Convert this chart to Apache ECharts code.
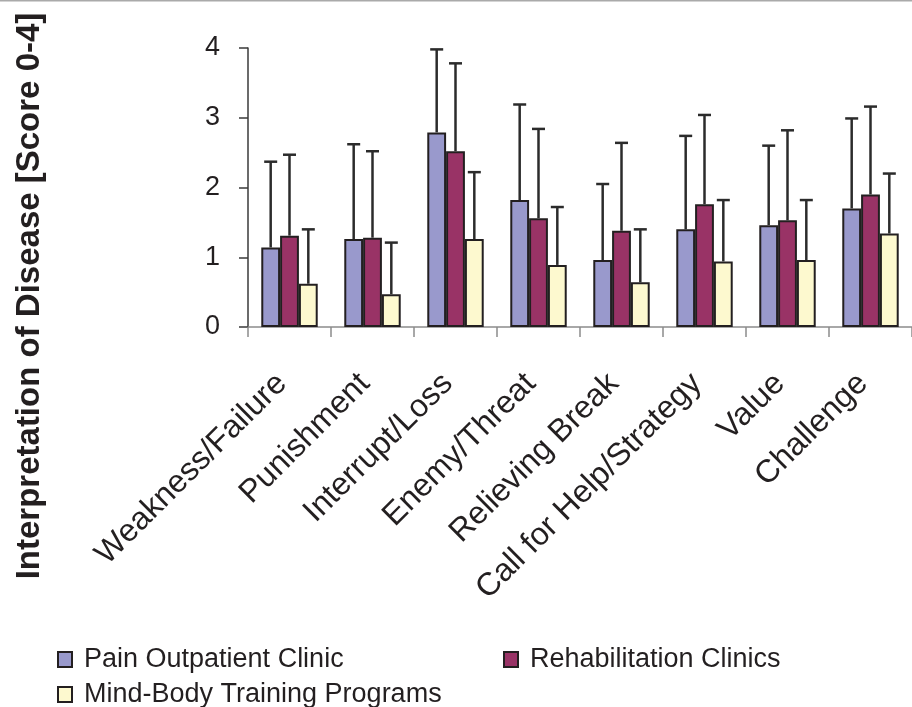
<!DOCTYPE html>
<html>
<head>
<meta charset="utf-8">
<script src="https://cdn.jsdelivr.net/npm/echarts@6/dist/echarts.min.js"></script>
<style>html,body{margin:0;padding:0;background:#fff}#c{width:912px;height:707px}</style>
</head>
<body>
<div id="c"></div>
<script>
const categories = ['Weakness/Failure','Punishment','Interrupt/Loss','Enemy/Threat','Relieving Break','Call for Help/Strategy','Value','Challenge'];
const seriesNames = ['Pain Outpatient Clinic','Rehabilitation Clinics','Mind-Body Training Programs'];
const painMean  = [1.14,1.26,2.79,1.82,0.96,1.40,1.46,1.70];
const painSD    = [1.23,1.36,1.19,1.37,1.09,1.34,1.14,1.29];
const rehabMean = [1.31,1.28,2.52,1.56,1.38,1.76,1.53,1.90];
const rehabSD   = [1.16,1.24,1.26,1.28,1.26,1.28,1.29,1.26];
const mindMean  = [0.62,0.47,1.26,0.89,0.64,0.94,0.96,1.34];
const mindSD    = [0.78,0.74,0.96,0.83,0.76,0.88,0.86,0.86];
const yTicks = [0,1,2,3,4];

const FONT = '"Liberation Sans", Arial, Helvetica, sans-serif';
const colors = ['#9999cc','#993366','#fdf9cf'];
const edge = '#231f20';
const CAT_GAP = 0.32;
const means = [painMean, rehabMean, mindMean];
const sds = [painSD, rehabSD, mindSD];

const chart = echarts.init(document.getElementById('c'), null, {renderer:'canvas'});

const series = [];
means.forEach((m, k) => {
  series.push({
    name: seriesNames[k], type: 'bar', data: m, barGap: '0%', barCategoryGap: (CAT_GAP*100)+'%',
    itemStyle: {color: colors[k], borderColor: edge, borderWidth: 2},
    emphasis: {disabled: true}, animation: false
  });
});
means.forEach((m, k) => {
  series.push({
    type: 'custom', z: 5, animation: false, silent: true,
    data: m.map((v, i) => [i, v, sds[k][i]]),
    renderItem: function (params, api) {
      const i = api.value(0), v = api.value(1), sd = api.value(2);
      const base = api.coord([i, v]);
      const top = api.coord([i, v + sd]);
      const bw = api.size([1, 0])[0] * (1 - CAT_GAP) / 3;
      const cx = base[0] + (k - 1) * bw;
      const st = {stroke: '#2b2b2b', lineWidth: 2.5};
      return {type: 'group', children: [
        {type: 'line', shape: {x1: cx, y1: base[1], x2: cx, y2: top[1]}, style: st},
        {type: 'line', shape: {x1: cx - 6.5, y1: top[1], x2: cx + 6.5, y2: top[1]}, style: st}
      ]};
    }
  });
});

function legendAt(name, left, top) {
  return {
    data: [name], left: left, top: top, icon: 'rect', itemWidth: 14, itemHeight: 15,
    selectedMode: false, padding: 0,
    textStyle: {fontFamily: FONT, fontSize: 27, color: '#231f20', padding: [0, 0, 0, 7]}
  };
}

chart.setOption({
  animation: false,
  grid: {left: 248, top: 48, bottom: 380, width: 673, containLabel: false},
  xAxis: {
    type: 'category', data: categories,
    axisLine: {lineStyle: {color: '#8c8c8c', width: 1.5}},
    axisTick: {show: true, interval: 0, length: 10, lineStyle: {color: '#8c8c8c', width: 1.5}},
    axisLabel: {interval: 0, rotate: 45, margin: 44, padding: [0, 11, 0, 0],
      fontFamily: FONT, fontSize: 32, color: '#231f20'}
  },
  yAxis: {
    type: 'value', min: 0, max: 4, interval: 1,
    splitLine: {show: false},
    axisLine: {show: true, lineStyle: {color: '#3a3a3a', width: 1.5}},
    axisTick: {show: true, length: 9, lineStyle: {color: '#3a3a3a', width: 1.5}},
    axisLabel: {margin: 28, fontFamily: FONT, fontSize: 27, color: '#231f20',
      formatter: v => yTicks.includes(v) ? String(v) : ''}
  },
  legend: [
    legendAt(seriesNames[0], 57, 646),
    legendAt(seriesNames[1], 503, 646),
    legendAt(seriesNames[2], 57, 681)
  ],
  graphic: [
    {type: 'line', shape: {x1: 0, y1: 0.5, x2: 912, y2: 0.5}, style: {stroke: '#aaaaaa', lineWidth: 2}},
    {type: 'text', x: 30, y: 296, rotation: Math.PI / 2,
      style: {text: 'Interpretation of Disease [Score 0-4]', fontFamily: FONT, fontWeight: 'bold', fontSize: 33,
        fill: '#231f20', textAlign: 'center', textVerticalAlign: 'middle'}}
  ],
  series: series
});
</script>
</body>
</html>
